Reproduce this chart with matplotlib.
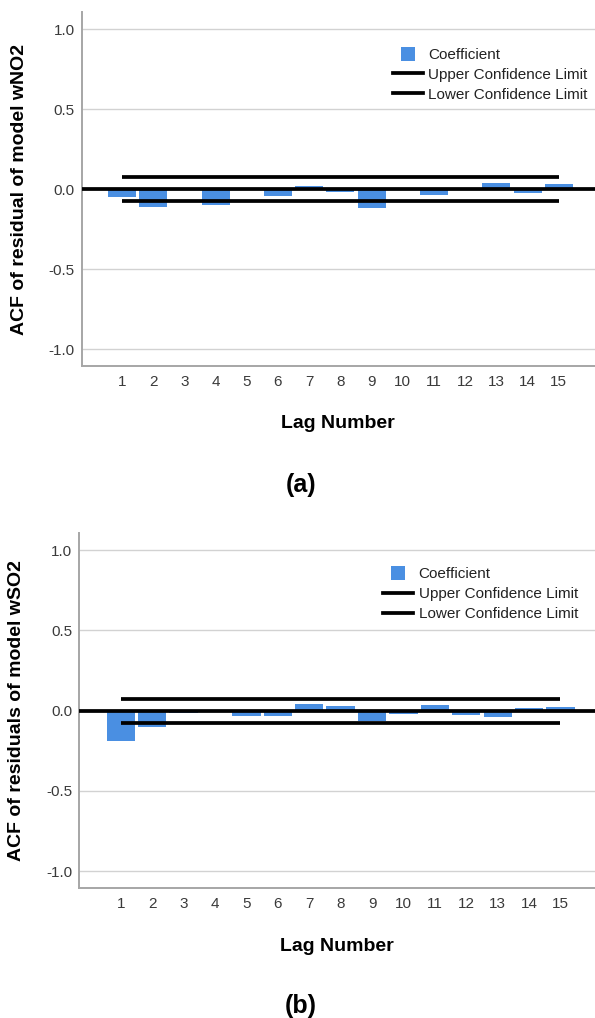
import matplotlib.pyplot as plt
from matplotlib.lines import Line2D

plt.rcParams['font.family'] = ['Liberation Sans', 'DejaVu Sans']

# lag numbers on the x axis
lags = [1, 2, 3, 4, 5, 6, 7, 8, 9, 10, 11, 12, 13, 14, 15]
lag_labels = ['1', '2', '3', '4', '5', '6', '7', '8', '9', '10', '11', '12', '13', '14', '15']
ytick_vals = [-1.0, -0.5, 0.0, 0.5, 1.0]
ytick_labels = ['-1.0', '-0.5', '0.0', '0.5', '1.0']

# (a) residual ACF of model wNO2
acf_wno2 = [-0.046, -0.110, -0.004, -0.096, -0.003, -0.044, 0.018, -0.020,
            -0.115, -0.004, -0.037, -0.003, 0.040, -0.023, 0.031]
ucl_wno2 = [0.075, 0.075, 0.075, 0.075, 0.075, 0.075, 0.075, 0.075,
            0.075, 0.075, 0.075, 0.075, 0.075, 0.075, 0.075]
lcl_wno2 = [-0.075, -0.075, -0.075, -0.075, -0.075, -0.075, -0.075, -0.075,
            -0.075, -0.075, -0.075, -0.075, -0.075, -0.075, -0.075]

# (b) residual ACF of model wSO2
acf_wso2 = [-0.188, -0.104, -0.012, 0.003, -0.035, -0.031, 0.042, 0.027,
            -0.065, -0.020, 0.036, -0.030, -0.037, 0.017, 0.020]
ucl_wso2 = [0.075, 0.075, 0.075, 0.075, 0.075, 0.075, 0.075, 0.075,
            0.075, 0.075, 0.075, 0.075, 0.075, 0.075, 0.075]
lcl_wso2 = [-0.075, -0.075, -0.075, -0.075, -0.075, -0.075, -0.075, -0.075,
            -0.075, -0.075, -0.075, -0.075, -0.075, -0.075, -0.075]

BAR_BLUE = '#4a8fe2'
W, H = 595, 1018


def draw_acf(ax, acf, ucl, lcl, ylabel, xlim, xlabel_y, legend_xy):
    ax.bar(lags, acf, width=0.9, color=BAR_BLUE, zorder=2)
    ax.plot(lags, ucl, color='black', lw=2.7, zorder=3, solid_capstyle='butt')
    ax.plot(lags, lcl, color='black', lw=2.7, zorder=3, solid_capstyle='butt')
    ax.axhline(0, color='black', lw=2.7, zorder=3)

    ax.set_xlim(*xlim)
    ax.set_ylim(-1.107, 1.107)
    ax.set_xticks(lags, lag_labels)
    ax.set_yticks(ytick_vals, ytick_labels)
    ax.grid(axis='y', color='#d2d2d2', lw=1.0, zorder=0)
    ax.set_axisbelow(True)

    for s in ['top', 'right']:
        ax.spines[s].set_visible(False)
    for s in ['left', 'bottom']:
        ax.spines[s].set_color('#a6a6a6')
        ax.spines[s].set_linewidth(1.4)

    ax.tick_params(axis='both', length=0, labelsize=11, labelcolor='#3a3a3a')
    ax.tick_params(axis='x', pad=6)
    ax.tick_params(axis='y', pad=5)

    ax.set_ylabel(ylabel, fontsize=14, fontweight='bold', va='center')
    ax.yaxis.set_label_coords(-0.122, 0.5)
    ax.set_xlabel('Lag Number', fontsize=14, fontweight='bold', va='center')
    ax.xaxis.set_label_coords(0.5, xlabel_y)

    handles = [
        Line2D([], [], marker='s', markersize=10, linestyle='none',
               color=BAR_BLUE, markeredgewidth=0),
        Line2D([], [], color='black', lw=2.7),
        Line2D([], [], color='black', lw=2.7),
    ]
    ax.legend(handles, ['Coefficient', 'Upper Confidence Limit', 'Lower Confidence Limit'],
              loc='upper left', bbox_to_anchor=(legend_xy[0] / W, 1 - legend_xy[1] / H),
              bbox_transform=fig.transFigure, frameon=False, fontsize=11,
              handlelength=1.96, handletextpad=0.35, labelspacing=0.38,
              borderpad=0, borderaxespad=0, labelcolor='#222222')


fig = plt.figure(figsize=(W / 100, H / 100), dpi=100)

ax1 = fig.add_axes([81.7 / W, 1 - 366.3 / H, (W - 81.7) / W, 354.3 / H])
draw_acf(ax1, acf_wno2, ucl_wno2, lcl_wno2, 'ACF of residual of model wNO2',
         (-0.29, 16.16), -0.1625, (392.7, 48.0))

ax2 = fig.add_axes([79 / W, 1 - 888.3 / H, (W - 79) / W, 355.3 / H])
draw_acf(ax2, acf_wso2, ucl_wso2, lcl_wso2, 'ACF of residuals of model wSO2',
         (-0.33, 16.1), -0.1626, (383.3, 567.5))

fig.text(301 / W, 1 - 485 / H, '(a)', ha='center', va='center', fontsize=18, fontweight='bold')
fig.text(301 / W, 1 - 1006 / H, '(b)', ha='center', va='center', fontsize=18, fontweight='bold')

fig.savefig('out.png', dpi=100)
